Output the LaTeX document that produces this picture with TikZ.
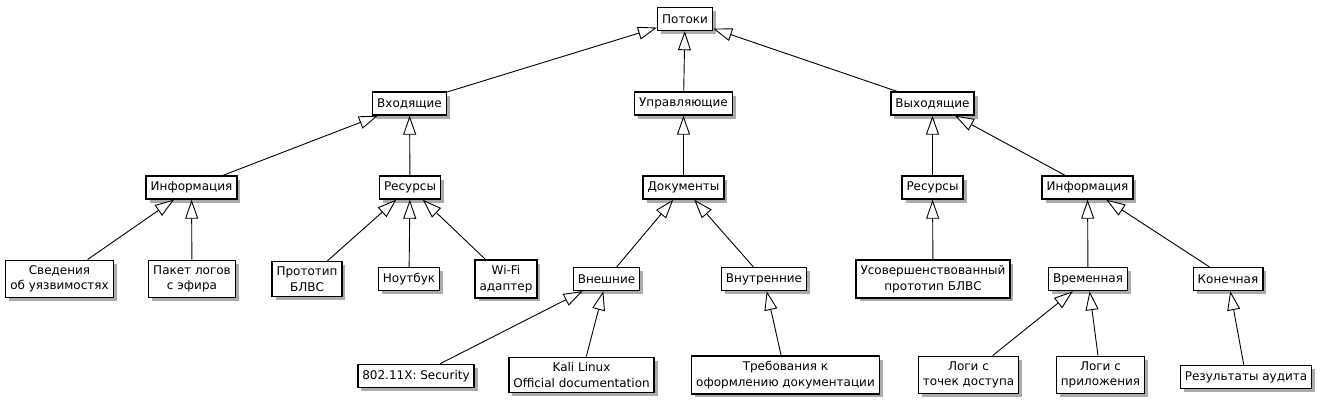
\documentclass[tikz,border=0pt]{standalone}
\usepackage{fontspec}
\setmainfont{DejaVu Sans}
\usetikzlibrary{arrows.meta, shadows}
\tikzset{
  box/.style={rectangle, draw, line width=1.4pt, fill=white,
              align=center, inner xsep=4.5pt, inner ysep=5.3pt,
              minimum height=23pt,
              font=\fontsize{12}{15.5}\selectfont,
              drop shadow={shadow xshift=3.5pt, shadow yshift=-3.5pt,
                           fill=black!55, opacity=0.6}},
  inh/.style={-{Triangle[length=19pt, width=13pt, fill=white]}, line width=0.9pt},
}
\begin{document}
\begin{tikzpicture}[x=1pt, y=-1pt]
  \useasboundingbox (0,0) rectangle (1325,405);
  % level 0 and 1
  \node[box] (potoki) at (685,19) {Потоки};
  \node[box] (vhod) at (409.5,103.5) {Входящие};
  \node[box] (upr) at (683.5,103.5) {Управляющие};
  \node[box] (vyhod) at (932.5,103.5) {Выходящие};
  % level 2
  \node[box] (infoL) at (191.5,187.5) {Информация};
  \node[box] (resL) at (410,187.5) {Ресурсы};
  \node[box] (docs) at (683.5,187.5) {Документы};
  \node[box] (resR) at (932.5,187.5) {Ресурсы};
  \node[box] (infoR) at (1087.5,187.5) {Информация};
  % level 3
  \node[box] (sved) at (59.5,279) {Сведения\\об уязвимостях};
  \node[box] (paket) at (192,279) {Пакет логов\\с эфира};
  \node[box] (proto) at (307,279) {Прототип\\БЛВС};
  \node[box] (nout) at (409,279) {Ноутбук};
  \node[box] (wifi) at (506,279) {Wi-Fi\\адаптер};
  \node[box] (vnesh) at (606.5,279) {Внешние};
  \node[box] (vnutr) at (764,279) {Внутренние};
  \node[box] (usover) at (933,279) {Усовершенствованный\\прототип БЛВС};
  \node[box] (vrem) at (1088,279) {Временная};
  \node[box] (konech) at (1228,279) {Конечная};
  % level 4
  \node[box] (ieee) at (416,376) {802.11X: Security};
  \node[box] (kali) at (581.5,375) {Kali Linux\\Official documentation};
  \node[box] (treb) at (785.5,375) {Требования к\\оформлению документации};
  \node[box] (logitd) at (968.5,375) {Логи с\\точек доступа};
  \node[box] (logipr) at (1100.5,375) {Логи с\\приложения};
  \node[box] (result) at (1246,377) {Результаты аудита};

  \foreach \c/\p in {vhod/potoki, upr/potoki, vyhod/potoki,
      infoL/vhod, resL/vhod, docs/upr, resR/vyhod, infoR/vyhod,
      sved/infoL, paket/infoL, proto/resL, nout/resL, wifi/resL,
      vnesh/docs, vnutr/docs, usover/resR, vrem/infoR, konech/infoR,
      ieee/vnesh, kali/vnesh, treb/vnutr, logitd/vrem, logipr/vrem, result/konech}
    \draw[inh] (\c) -- (\p);
\end{tikzpicture}
\end{document}
